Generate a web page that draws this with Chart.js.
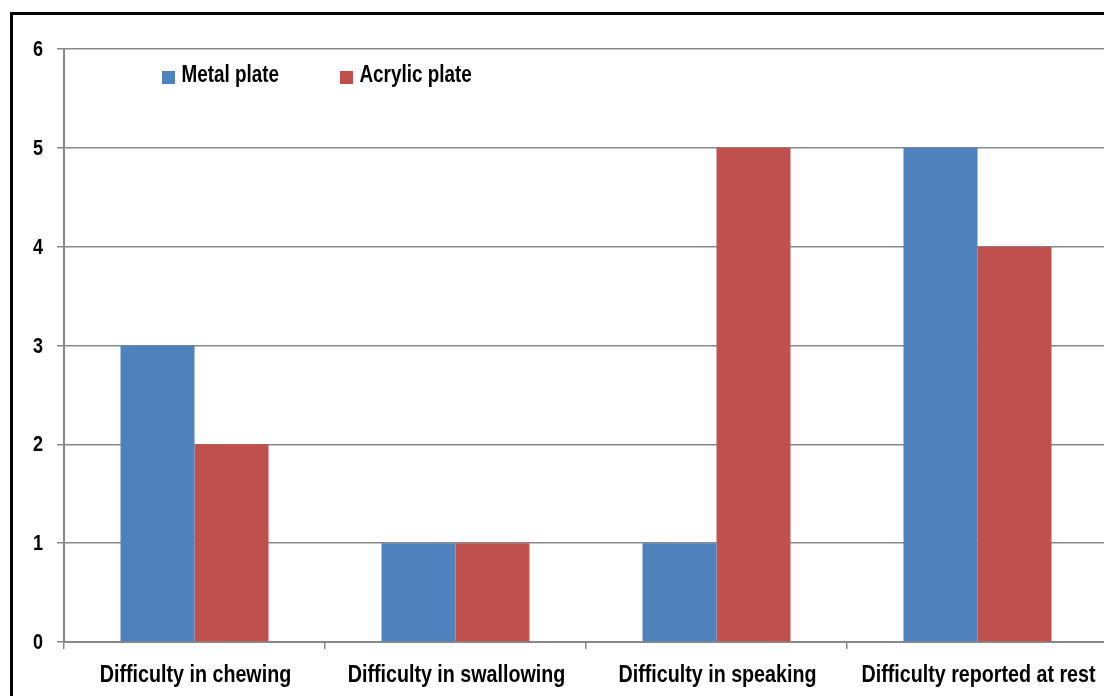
<!DOCTYPE html>
<html>
<head>
<meta charset="utf-8">
<script src="https://cdn.jsdelivr.net/npm/chart.js@4.4.1/dist/chart.umd.min.js"></script>
<style>
  html, body { margin: 0; padding: 0; background: #fff; overflow: hidden; width: 1104px; height: 696px; }
  #wrap { position: relative; width: 1120px; height: 696px; }
  #frame { position: absolute; left: 10px; top: 12px; width: 1300px; height: 900px; border: 3px solid #000; box-sizing: border-box; pointer-events: none; }
  canvas { position: absolute; left: 0; top: 0; }
</style>
</head>
<body>
<div id="wrap">
  <div id="frame"></div>
  <canvas id="c" width="1120" height="696"></canvas>
</div>
<script>
const categories = ["Difficulty in chewing", "Difficulty in swallowing", "Difficulty in speaking", "Difficulty reported at rest"];
const seriesNames = ["Metal plate", "Acrylic plate"];
const metalValues = [3, 1, 1, 5];
const acrylicValues = [2, 1, 5, 4];
const yTicks = [0, 1, 2, 3, 4, 5, 6];

const FONT = "'Liberation Sans', Arial, sans-serif";
const GRID = '#888888';
const NARROW = 0.82;

function narrowText(ctx, text, x, y, size, align) {
  ctx.save();
  ctx.font = 'bold ' + size + 'px ' + FONT;
  ctx.fillStyle = '#000';
  ctx.textAlign = align;
  ctx.textBaseline = 'alphabetic';
  ctx.translate(x, y);
  ctx.scale(NARROW, 1);
  ctx.fillText(text, 0, 0);
  ctx.restore();
}

const textPlugin = {
  id: 'narrowText',
  afterDraw(chart) {
    const ctx = chart.ctx;
    const xs = chart.scales.x, ys = chart.scales.y;
    // category labels
    chart.data.labels.forEach((lab, i) => {
      narrowText(ctx, lab, xs.getPixelForValue(i) + 1, 682, 24, 'center');
    });
    // value axis labels
    yTicks.forEach(v => {
      narrowText(ctx, String(v), 43, ys.getPixelForValue(v) + 7, 22, 'right');
    });
    // legend inside plot
    const lx = [162, 340];
    chart.data.datasets.forEach((ds, i) => {
      ctx.save();
      ctx.fillStyle = ds.backgroundColor;
      ctx.fillRect(lx[i], 71, 13, 13);
      ctx.restore();
      narrowText(ctx, ds.label, lx[i] + 19.5, 82, 23, 'left');
    });
  }
};

new Chart(document.getElementById('c'), {
  type: 'bar',
  data: {
    labels: categories,
    datasets: [
      { label: seriesNames[0], data: metalValues, backgroundColor: '#4F81BD' },
      { label: seriesNames[1], data: acrylicValues, backgroundColor: '#C0504D' }
    ]
  },
  options: {
    responsive: false,
    animation: false,
    devicePixelRatio: 1,
    layout: { padding: { left: 0, top: 49, right: 12, bottom: 0 } },
    datasets: { bar: { categoryPercentage: 0.567, barPercentage: 1.0 } },
    plugins: { legend: { display: false }, tooltip: { enabled: false } },
    scales: {
      x: {
        grid: { display: true, drawOnChartArea: false, drawTicks: true, tickLength: 7, color: GRID, lineWidth: 1.5, offset: true },
        border: { display: true, color: GRID, width: 2 },
        ticks: { color: 'rgba(0,0,0,0)', font: { family: FONT, size: 20, weight: 'bold' }, padding: 7, maxRotation: 0, autoSkip: false },
        afterFit(scale) { scale.height = 54; }
      },
      y: {
        min: 0, max: 6,
        afterBuildTicks(scale) { scale.ticks = yTicks.map(v => ({ value: v })); },
        grid: { color: GRID, lineWidth: 1.5, drawTicks: true, tickLength: 7 },
        border: { display: true, color: GRID, width: 2 },
        ticks: { color: 'rgba(0,0,0,0)', font: { family: FONT, size: 20, weight: 'bold' }, padding: 14 },
        afterFit(scale) { scale.width = 64; }
      }
    }
  },
  plugins: [textPlugin]
});
</script>
</body>
</html>
